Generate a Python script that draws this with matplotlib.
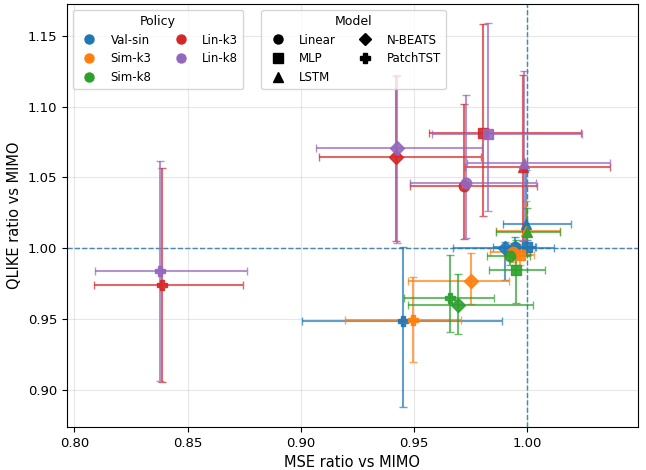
import numpy as np
import matplotlib
matplotlib.use("Agg")
from matplotlib import pyplot as plt
from matplotlib.lines import Line2D

policies = ["Val-sin", "Sim-k3", "Sim-k8", "Lin-k3", "Lin-k8"]
models = ["Linear", "MLP", "LSTM", "N-BEATS", "PatchTST"]
colors = ["tab:blue", "tab:orange", "tab:green", "tab:red", "tab:purple"]
markers = ["o", "s", "^", "D", "P"]

# order of models in every list: Linear, MLP, LSTM, N-BEATS, PatchTST
mse_val_sin = [0.9947, 0.9999, 0.9994, 0.9903, 0.9451]
mse_lo_val_sin = [0.9850, 0.9960, 0.9896, 0.9675, 0.9007]
mse_hi_val_sin = [1.0040, 1.0035, 1.0197, 1.0120, 0.9889]
ql_val_sin = [1.0007, 1.0008, 1.0170, 1.0002, 0.9483]
ql_lo_val_sin = [0.9930, 0.9950, 0.9950, 0.9773, 0.8880]
ql_hi_val_sin = [1.0080, 1.0060, 1.0550, 1.0045, 1.0010]

mse_sim_k3 = [0.9938, 0.9969, 0.9998, 0.9752, 0.9496]
mse_lo_sim_k3 = [0.9835, 0.9900, 0.9863, 0.9473, 0.9198]
mse_hi_sim_k3 = [1.0013, 1.0030, 1.0145, 0.9922, 0.9708]
ql_sim_k3 = [0.9972, 0.9955, 1.0120, 0.9766, 0.9495]
ql_lo_sim_k3 = [0.9900, 0.9880, 0.9960, 0.9608, 0.9195]
ql_hi_sim_k3 = [1.0040, 1.0030, 1.0333, 0.9967, 0.9797]

mse_sim_k8 = [0.9925, 0.9950, 1.0000, 0.9695, 0.9658]
mse_lo_sim_k8 = [0.9822, 0.9834, 0.9863, 0.9473, 0.9455]
mse_hi_sim_k8 = [1.0013, 1.0082, 1.0145, 1.0028, 0.9856]
ql_sim_k8 = [0.9943, 0.9844, 1.0113, 0.9596, 0.9648]
ql_lo_sim_k8 = [0.9880, 0.9613, 0.9950, 0.9396, 0.9407]
ql_hi_sim_k8 = [1.0010, 1.0060, 1.0285, 0.9816, 0.9950]

mse_lin_k3 = [0.9724, 0.9805, 0.9981, 0.9422, 0.8386]
mse_lo_lin_k3 = [0.9482, 0.9568, 0.9728, 0.9081, 0.8087]
mse_hi_lin_k3 = [1.0043, 1.0241, 1.0369, 0.9796, 0.8744]
ql_lin_k3 = [1.0441, 1.0812, 1.0575, 1.0642, 0.9738]
ql_lo_lin_k3 = [1.0069, 1.0229, 1.0050, 1.0050, 0.9058]
ql_hi_lin_k3 = [1.1020, 1.1586, 1.1225, 1.1220, 1.0567]

mse_lin_k8 = [0.9731, 0.9830, 0.9985, 0.9424, 0.8376]
mse_lo_lin_k8 = [0.9485, 0.9580, 0.9737, 0.9066, 0.8089]
mse_hi_lin_k8 = [1.0040, 1.0245, 1.0369, 0.9800, 0.8761]
ql_lin_k8 = [1.0458, 1.0807, 1.0600, 1.0706, 0.9837]
ql_lo_lin_k8 = [1.0076, 1.0264, 1.0060, 1.0040, 0.9065]
ql_hi_lin_k8 = [1.1084, 1.1591, 1.1254, 1.1225, 1.0616]

data = [
    (mse_val_sin, mse_lo_val_sin, mse_hi_val_sin, ql_val_sin, ql_lo_val_sin, ql_hi_val_sin),
    (mse_sim_k3, mse_lo_sim_k3, mse_hi_sim_k3, ql_sim_k3, ql_lo_sim_k3, ql_hi_sim_k3),
    (mse_sim_k8, mse_lo_sim_k8, mse_hi_sim_k8, ql_sim_k8, ql_lo_sim_k8, ql_hi_sim_k8),
    (mse_lin_k3, mse_lo_lin_k3, mse_hi_lin_k3, ql_lin_k3, ql_lo_lin_k3, ql_hi_lin_k3),
    (mse_lin_k8, mse_lo_lin_k8, mse_hi_lin_k8, ql_lin_k8, ql_lo_lin_k8, ql_hi_lin_k8),
]

fig, ax = plt.subplots(figsize=(6.46, 4.70), dpi=100)
fig.subplots_adjust(left=0.1037, right=0.9876, top=0.9915, bottom=0.0915)

for (x, xlo, xhi, y, ylo, yhi), c in zip(data, colors):
    for j, m in enumerate(markers):
        xerr = [[x[j] - xlo[j]], [xhi[j] - x[j]]]
        yerr = [[y[j] - ylo[j]], [yhi[j] - y[j]]]
        ax.errorbar(x[j], y[j], xerr=xerr, yerr=yerr, fmt="none", ecolor=c,
                    elinewidth=1.5, capsize=3, alpha=0.7, zorder=2)
        ax.plot(x[j], y[j], marker=m, color=c, markersize=7.5, linestyle="none",
                alpha=0.9, zorder=3)

ax.axhline(1.0, color="tab:blue", linestyle="--", linewidth=1, zorder=1)
ax.axvline(1.0, color="tab:blue", linestyle="--", linewidth=1, zorder=1)

ax.set_xlim(0.7967, 1.0491)
ax.set_ylim(0.8738, 1.1725)
ax.set_xticks([0.80, 0.85, 0.90, 0.95, 1.00])
ax.set_yticks([0.90, 0.95, 1.00, 1.05, 1.10, 1.15])
ax.tick_params(labelsize=9.5)
ax.grid(True, alpha=0.3)
ax.set_xlabel("MSE ratio vs MIMO", fontsize=10.5)
ax.set_ylabel("QLIKE ratio vs MIMO", fontsize=10.5)

pol_handles = [Line2D([], [], marker="o", color=c, linestyle="none", markersize=6.5)
               for c in colors]
mod_handles = [Line2D([], [], marker=m, color="black", linestyle="none", markersize=6.5)
               for m in markers]
leg1 = ax.legend(pol_handles, policies, title="Policy", ncol=2, loc="upper left",
                 fontsize=8.5, title_fontsize=9, columnspacing=1.5)
ax.add_artist(leg1)
ax.legend(mod_handles, models, title="Model", ncol=2, loc="upper left",
          bbox_to_anchor=(0.33, 1.0), fontsize=8.5, title_fontsize=9,
          columnspacing=1.5)

fig.savefig("out.png")
